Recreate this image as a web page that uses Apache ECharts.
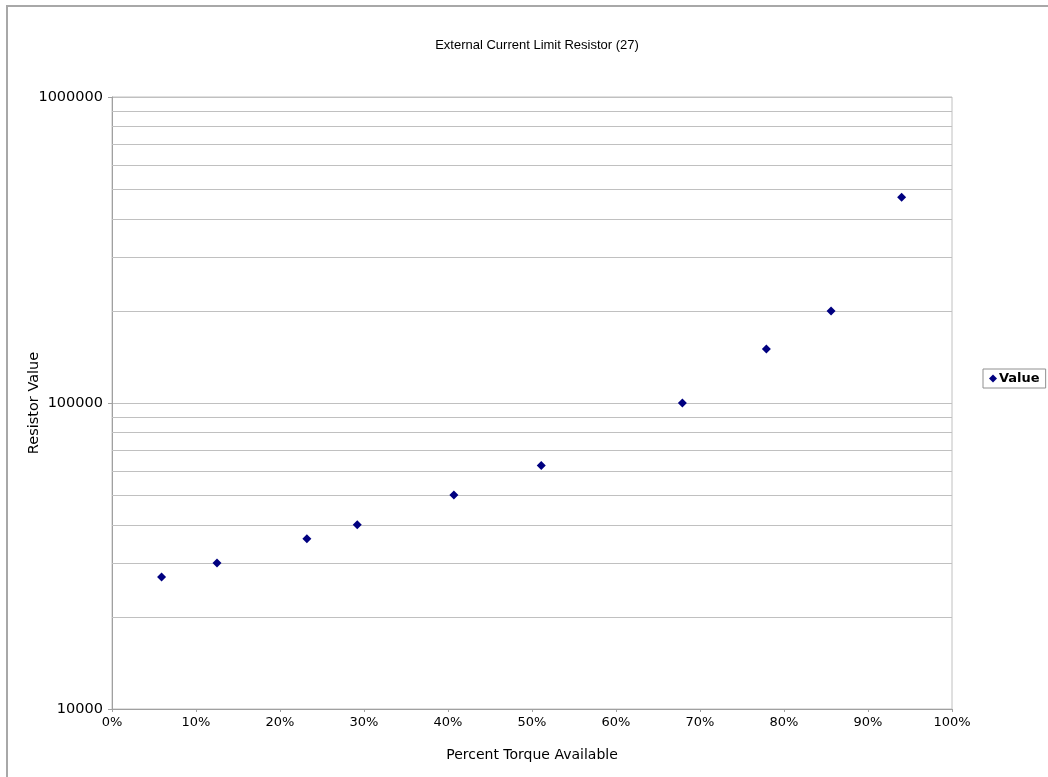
<!DOCTYPE html>
<html>
<head>
<meta charset="utf-8">
<script src="https://cdn.jsdelivr.net/npm/echarts@6/dist/echarts.min.js"></script>
<style>
  html, body { margin: 0; padding: 0; background: #fff; }
  #chart { width: 1048px; height: 777px; }
</style>
</head>
<body>
<div id="chart"></div>
<script>
// percent torque available (x) and resistor value (y)
var torquePct = [5.9, 12.5, 23.2, 29.2, 40.7, 51.1, 67.9, 77.9, 85.6, 94.0];
var resistor = [27000, 30000, 36000, 40000, 50000, 62500, 100000, 150000, 200000, 470000];
// minor grid lines of the log axis
var minorLines = [20000, 30000, 40000, 50000, 60000, 70000, 80000, 90000,
                  200000, 300000, 400000, 500000, 600000, 700000, 800000, 900000];

var chart = echarts.init(document.getElementById('chart'));
var font = 'Liberation Sans, Arial, sans-serif';
var font2 = 'DejaVu Sans, sans-serif';

var points = torquePct.map(function (x, i) { return [x, resistor[i]]; });

var option = {
    animation: false,
    backgroundColor: '#ffffff',
    title: {
        text: 'External Current Limit Resistor (27)',
        left: 532,
        top: 34,
        textAlign: 'center',
        textStyle: { fontFamily: font, fontSize: 13, fontWeight: 'normal', color: '#000' }
    },
    legend: {
        data: ['Value'],
        left: 983,
        top: 369,
        orient: 'vertical',
        icon: 'diamond',
        itemWidth: 8,
        itemHeight: 8,
        itemGap: 2,
        padding: [3, 6, 3, 6],
        borderColor: '#909090',
        borderWidth: 1,
        textStyle: { fontFamily: font2, fontSize: 13, fontWeight: 'bold', color: '#000', padding: [0, 0, 0, -3] }
    },
    grid: {
        left: 112, right: 96, top: 97, bottom: 68,
        show: true,
        borderColor: '#c0c0c0',
        borderWidth: 1
    },
    graphic: [{
        type: 'polyline',
        shape: { points: [[7, 780], [7, 6], [1050, 6]] },
        style: { stroke: '#a8a8a8', lineWidth: 2, fill: null },
        silent: true
    }],
    xAxis: {
        type: 'value',
        min: 0,
        max: 100,
        interval: 10,
        name: 'Percent Torque Available',
        nameLocation: 'middle',
        nameGap: 39,
        nameMoveOverlap: false,
        nameTextStyle: { fontFamily: font2, fontSize: 14, color: '#000' },
        axisLine: { show: true, lineStyle: { color: '#a0a0a0' } },
        axisTick: { show: true, length: 3, lineStyle: { color: '#a0a0a0' } },
        axisLabel: {
            fontFamily: font2, fontSize: 13, color: '#000', margin: 7,
            formatter: function (v) { return v + '%'; }
        },
        splitLine: { show: false }
    },
    yAxis: {
        type: 'log',
        logBase: 10,
        min: 10000,
        max: 1000000,
        name: 'Resistor Value',
        nameLocation: 'middle',
        nameGap: 70,
        nameMoveOverlap: false,
        nameTextStyle: { fontFamily: font2, fontSize: 14.5, color: '#000' },
        axisLine: { show: true, lineStyle: { color: '#a0a0a0' } },
        axisTick: { show: true, length: 4, lineStyle: { color: '#a0a0a0' } },
        axisLabel: {
            fontFamily: font2, fontSize: 14.5, color: '#000', margin: 9,
            formatter: function (v) { return String(Math.round(v)); }
        },
        splitLine: { show: true, lineStyle: { color: '#c0c0c0', width: 1 } }
    },
    series: [{
        name: 'grid',
        type: 'line',
        data: [],
        z: 1,
        markLine: {
            silent: true,
            symbol: 'none',
            label: { show: false },
            lineStyle: { color: '#c0c0c0', width: 1, type: 'solid' },
            data: minorLines.map(function (v) { return { yAxis: v }; })
        }
    }, {
        name: 'Value',
        type: 'scatter',
        symbol: 'diamond',
        symbolSize: 9,
        itemStyle: { color: '#000080', opacity: 1 },
        data: points,
        z: 5
    }]
};

chart.setOption(option);
</script>
</body>
</html>
